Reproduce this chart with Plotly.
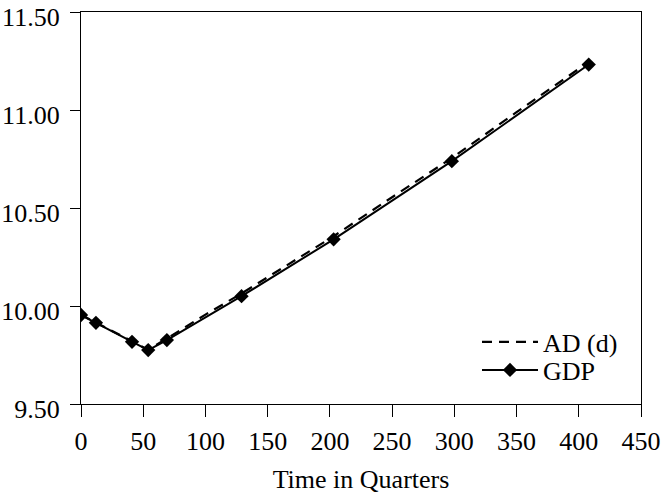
import plotly.graph_objects as go

# GDP observations (log level) by quarter
gdp_quarters = [0, 12, 41, 54, 69, 129, 203, 298, 408]
gdp_values = [9.954, 9.914, 9.817, 9.775, 9.826, 10.050, 10.340, 10.739, 11.232]

# Aggregate demand path, AD (d)
ad_quarters = [0, 12, 41, 54, 69, 100, 129, 160, 203, 250, 298, 350, 408]
ad_values = [9.955, 9.915, 9.818, 9.777, 9.834, 9.956, 10.064, 10.187,
             10.356, 10.555, 10.755, 10.989, 11.245]

x_ticks = [0, 50, 100, 150, 200, 250, 300, 350, 400, 450]
y_ticks = [9.50, 10.00, 10.50, 11.00, 11.50]

FONT = "Liberation Serif"
FS = 26
W, H = 663, 494
M = dict(l=81, r=22, t=12, b=90)

fig = go.Figure()

fig.add_trace(go.Scatter(
    x=ad_quarters, y=ad_values, name="AD (d)", mode="lines",
    line=dict(color="black", width=2.2, dash="10px,7px"),
    legend="legend",
))
fig.add_trace(go.Scatter(
    x=gdp_quarters, y=gdp_values, name="GDP", mode="lines+markers",
    line=dict(color="black", width=2),
    marker=dict(symbol="diamond", size=11, color="black"),
    legend="legend2",
))

axis_common = dict(
    showline=True, linecolor="black", linewidth=1.3, mirror=True,
    ticks="outside", tickcolor="black", tickwidth=1.3,
    showgrid=False, zeroline=False, ticklabeloverflow="allow",
    automargin=False,
    tickfont=dict(family=FONT, size=FS, color="black"),
)

fig.update_xaxes(
    range=[0, 450], tickvals=x_ticks, ticklen=12, ticklabelstandoff=2,
    title=dict(text="Time in Quarters", standoff=22,
               font=dict(family=FONT, size=FS, color="black")),
    **axis_common,
)
fig.update_yaxes(
    range=[9.5, 11.5], tickvals=y_ticks, tickformat=".2f", ticklen=10,
    ticklabelstandoff=5, ticklabelshift=5,
    **axis_common,
)

pw = W - M["l"] - M["r"]
ph = H - M["t"] - M["b"]

legend_style = dict(
    font=dict(family=FONT, size=FS, color="black"),
    bgcolor="rgba(0,0,0,0)", borderwidth=0,
    xanchor="left", yanchor="middle",
    itemwidth=56,
)

fig.update_layout(
    width=W, height=H, margin=M,
    paper_bgcolor="white", plot_bgcolor="white",
    showlegend=True,
    legend=dict(x=(477 - M["l"]) / pw, y=(H - M["b"] - 342) / ph, **legend_style),
    legend2=dict(x=(477 - M["l"]) / pw, y=(H - M["b"] - 370) / ph, **legend_style),
)

fig.write_html("out.html")
